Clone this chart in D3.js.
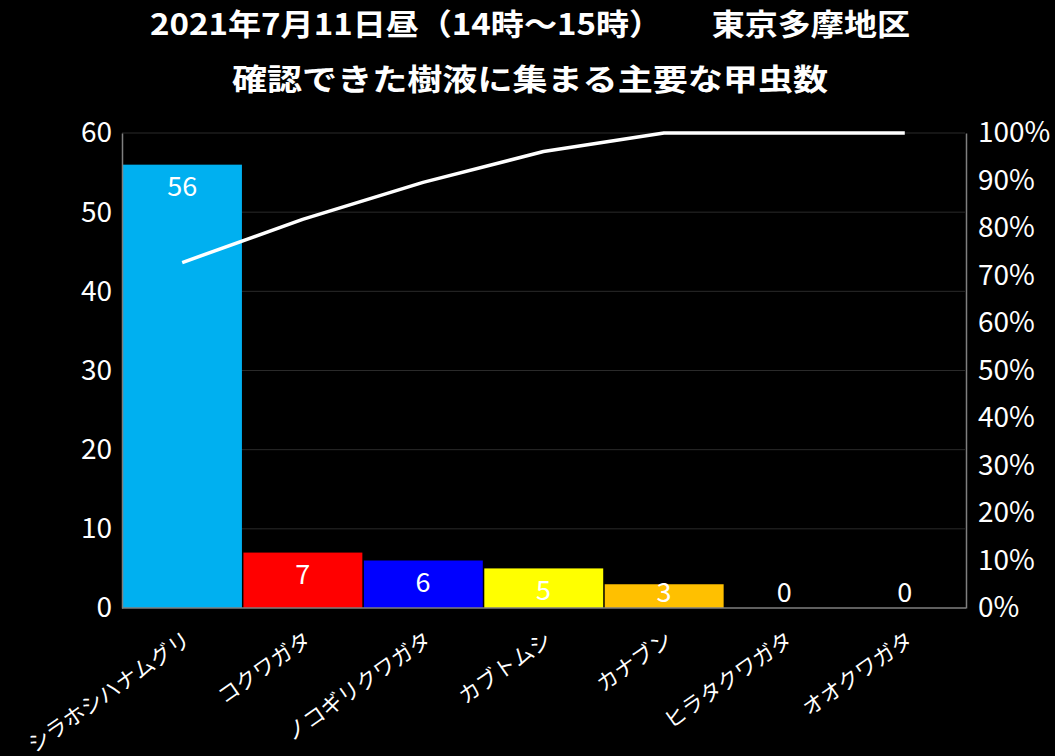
<!DOCTYPE html>
<html><head><meta charset="utf-8">
<script src="https://cdn.jsdelivr.net/npm/d3@7"></script>
<style>
html,body{margin:0;padding:0;background:#000;}
text{font-family:"Noto Sans CJK JP","Noto Sans",sans-serif;fill:#fff;}
</style></head>
<body>
<svg id="chart" width="1055" height="756"></svg>
<script>
const titleLines = ["2021年7月11日昼（14時～15時）　　東京多摩地区", "確認できた樹液に集まる主要な甲虫数"];
const categories = ["シラホシハナムグリ","コクワガタ","ノコギリクワガタ","カブトムシ","カナブン","ヒラタクワガタ","オオクワガタ"];
const counts = [56, 7, 6, 5, 3, 0, 0];
const barColors = ["#00B0F0","#FF0000","#0000FF","#FFFF00","#FFC000","#000000","#000000"];
const leftTicks = [0,10,20,30,40,50,60];
const rightTicks = [0,0.1,0.2,0.3,0.4,0.5,0.6,0.7,0.8,0.9,1.0];

const total = d3.sum(counts);
let run = 0;
const cumulative = counts.map(v => (run += v) / total);

const svg = d3.select("#chart");
svg.append("rect").attr("width",1055).attr("height",756).attr("fill","#000");

const x0 = 122, x1 = 965, yTop = 133, yBot = 608;
const x = d3.scaleBand().domain(categories).range([x0, x1]).padding(0);
const y = d3.scaleLinear().domain([0, 60]).range([yBot, yTop]);
const yR = d3.scaleLinear().domain([0, 1]).range([yBot, yTop]);

// Title
const tl = [{t:titleLines[0], y:35, len:760}, {t:titleLines[1], y:90, len:596}];
svg.selectAll("text.title").data(tl).join("text").attr("class","title")
  .attr("x", 530).attr("y", d => d.y).attr("text-anchor","middle")
  .attr("font-size", 30).attr("font-weight","bold")
  .attr("textLength", d => d.len).attr("lengthAdjust","spacingAndGlyphs")
  .text(d => d.t);

// Gridlines
svg.append("g").selectAll("line").data(leftTicks.slice(1)).join("line")
  .attr("x1", x0).attr("x2", x1).attr("y1", d => y(d)).attr("y2", d => y(d))
  .attr("stroke", "#2a2a2a").attr("stroke-width", 1);

// Bars
svg.append("g").selectAll("rect").data(categories).join("rect")
  .attr("x", d => x(d) + 1).attr("width", x.bandwidth() - 1.5)
  .attr("y", (d,i) => y(counts[i])).attr("height", (d,i) => y(0) - y(counts[i]))
  .attr("fill", (d,i) => barColors[i]);

// Axes
const numFont = '"Noto Sans","Noto Sans CJK JP",sans-serif';
const gL = svg.append("g").attr("transform", `translate(${x0},0)`)
  .call(d3.axisLeft(y).tickValues(leftTicks).tickSize(0).tickPadding(10));
gL.select(".domain").attr("stroke", "#7f7f7f").attr("stroke-width", 1.5);
gL.selectAll("text").attr("font-size", 28).attr("fill", "#fff").attr("font-family", numFont);

const gR = svg.append("g").attr("transform", `translate(${x1+1},0)`)
  .call(d3.axisRight(yR).tickValues(rightTicks).tickFormat(d3.format(".0%")).tickSize(0).tickPadding(12));
gR.select(".domain").attr("stroke", "#7f7f7f").attr("stroke-width", 1.5);
gR.selectAll("text").attr("font-size", 28).attr("fill", "#fff").attr("font-family", numFont);

svg.append("line").attr("x1", x0).attr("x2", x1+1).attr("y1", yBot).attr("y2", yBot)
  .attr("stroke", "#7f7f7f").attr("stroke-width", 1.5);

// Data labels
svg.append("g").selectAll("text").data(categories).join("text")
  .attr("x", d => x(d) + x.bandwidth()/2)
  .attr("y", (d,i) => Math.min(y(counts[i]) + 22, y(0) - 15))
  .attr("dy", "0.35em").attr("text-anchor", "middle")
  .attr("font-size", 27).attr("fill", "#fff").attr("font-family", numFont)
  .text((d,i) => counts[i]);

// Cumulative line
const line = d3.line().x((d,i) => x(categories[i]) + x.bandwidth()/2).y(d => yR(d));
svg.append("path").datum(cumulative).attr("d", line)
  .attr("fill", "none").attr("stroke", "#fff").attr("stroke-width", 3.5)
  .attr("stroke-linejoin", "round");

// Category labels
svg.append("g").selectAll("text").data(categories).join("text")
  .attr("transform", d => `translate(${x(d) + x.bandwidth()/2},${629}) rotate(-35)`)
  .attr("text-anchor", "end").attr("dy", "0.8em")
  .attr("font-size", 21.5).attr("fill", "#fff")
  .text(d => d);
</script>
</body></html>
